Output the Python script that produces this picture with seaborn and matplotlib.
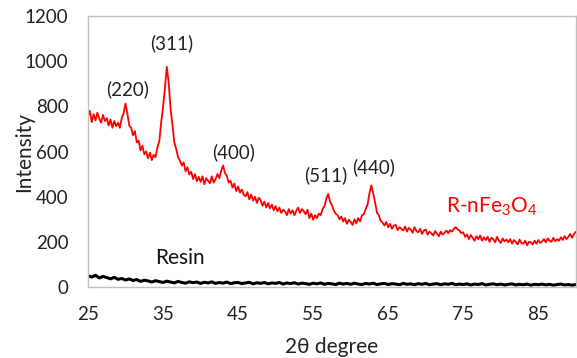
import numpy as np
import pandas as pd
import matplotlib
matplotlib.use("Agg")
import matplotlib.pyplot as plt
import seaborn as sns

# ---- data ----
# R-nFe3O4 pattern, sampled every 0.25 degree from 25 to 90
red_start, red_step = 25.0, 0.25
red_intensity = [
    755, 780, 730, 765,   # 25
    738, 772, 745, 728,   # 26
    762, 735, 748, 715,   # 27
    742, 705, 735, 712,   # 28
    728, 705, 748, 770,   # 29
    812, 768, 715, 705,   # 30
    672, 690, 640, 648,   # 31
    605, 625, 588, 600,   # 32
    570, 595, 562, 585,   # 33
    575, 618, 645, 730,   # 34
    795, 880, 975, 905,   # 35
    790, 720, 640, 612,   # 36
    575, 560, 538, 552,   # 37
    512, 530, 498, 510,   # 38
    478, 500, 468, 488,   # 39
    465, 490, 455, 482,   # 40
    470, 460, 490, 462,   # 41
    478, 500, 482, 515,   # 42
    538, 505, 492, 462,   # 43
    470, 440, 458, 425,   # 44
    445, 418, 432, 408,   # 45
    402, 420, 388, 410,   # 46
    382, 400, 372, 395,   # 47
    385, 360, 378, 352,   # 48
    372, 348, 365, 340,   # 49
    358, 335, 352, 328,   # 50
    342, 335, 318, 345,   # 51
    325, 340, 318, 338,   # 52
    352, 328, 345, 335,   # 53
    322, 342, 305, 325,   # 54
    298, 318, 305, 325,   # 55
    318, 345, 358, 390,   # 56
    412, 378, 362, 338,   # 57
    325, 318, 300, 312,   # 58
    290, 305, 280, 298,   # 59
    288, 275, 300, 282,   # 60
    305, 290, 318, 322,   # 61
    345, 365, 415, 450,   # 62
    415, 375, 330, 318,   # 63
    292, 285, 272, 288,   # 64
    265, 280, 258, 272,   # 65
    275, 252, 265, 258,   # 66
    250, 268, 245, 262,   # 67
    255, 240, 265, 248,   # 68
    242, 258, 235, 250,   # 69
    255, 232, 245, 238,   # 70
    228, 248, 235, 225,   # 71
    245, 232, 240, 250,   # 72
    238, 252, 245, 258,   # 73
    265, 255, 250, 238,   # 74
    242, 222, 232, 212,   # 75
    230, 218, 205, 225,   # 76
    212, 228, 205, 220,   # 77
    208, 222, 200, 218,   # 78
    212, 198, 222, 205,   # 79
    195, 215, 202, 210,   # 80
    198, 212, 192, 208,   # 81
    200, 188, 210, 195,   # 82
    192, 205, 185, 200,   # 83
    198, 188, 205, 192,   # 84
    208, 195, 202, 212,   # 85
    198, 215, 205, 200,   # 86
    218, 202, 212, 205,   # 87
    220, 208, 225, 212,   # 88
    222, 235, 218, 235,   # 89
    245,                  # 90
]

# Resin pattern, sampled every 0.5 degree from 25 to 90
resin_start, resin_step = 25.0, 0.5
resin_intensity = [
    50, 44, 52, 40, 47, 42, 36, 43, 34, 38,   # 25-29.5
    31, 36, 29, 33, 25, 30, 27, 22, 28, 24,   # 30-34.5
    20, 26, 22, 18, 25, 20, 17, 23, 19, 22,   # 35-39.5
    16, 21, 18, 23, 16, 20, 17, 22, 15, 19,   # 40-44.5
    20, 15, 18, 21, 14, 19, 16, 20, 14, 18,   # 45-49.5
    16, 20, 13, 18, 15, 19, 13, 17, 15, 12,   # 50-54.5
    17, 14, 18, 12, 16, 14, 11, 17, 13, 16,   # 55-59.5
    12, 17, 13, 11, 16, 13, 17, 11, 14, 16,   # 60-64.5
    11, 15, 13, 10, 16, 12, 14, 10, 15, 12,   # 65-69.5
    16, 10, 13, 15, 10, 14, 12, 16, 10, 13,   # 70-74.5
    11, 14, 9, 13, 11, 15, 9, 12, 14, 10,     # 75-79.5
    13, 9, 12, 14, 9, 12, 10, 13, 8, 12,      # 80-84.5
    10, 13, 9, 12, 8, 11, 13, 9, 11, 8,       # 85-89.5
    11,                                        # 90
]

peak_labels = ["(220)", "(311)", "(400)", "(511)", "(440)"]
peak_label_x = [30.3, 36.2, 44.4, 56.7, 63.0]
peak_label_y = [875, 1080, 595, 493, 529]

x_ticks = [25, 35, 45, 55, 65, 75, 85]
y_ticks = [0, 200, 400, 600, 800, 1000, 1200]

# ---- build frames ----
red_theta = red_start + red_step * np.arange(len(red_intensity))
resin_theta = resin_start + resin_step * np.arange(len(resin_intensity))
df_red = pd.DataFrame({"theta": red_theta, "intensity": red_intensity})
df_resin = pd.DataFrame({"theta": resin_theta, "intensity": resin_intensity})

sns.set_style("white")
plt.rcParams["font.family"] = ["Lato", "DejaVu Sans"]
plt.rcParams["mathtext.fontset"] = "custom"
plt.rcParams["mathtext.rm"] = "Lato"
plt.rcParams["mathtext.it"] = "Lato:italic"

fig = plt.figure(figsize=(5.77, 3.58), dpi=100)
ax = fig.add_axes([0.1525, 0.1983, 0.8455, 0.757])

sns.lineplot(data=df_red, x="theta", y="intensity", ax=ax, color="#ff0000",
             linewidth=1.3, estimator=None, sort=False)
sns.lineplot(data=df_resin, x="theta", y="intensity", ax=ax, color="#000000",
             linewidth=2.2, estimator=None, sort=False)

ax.set_xlim(25, 90)
ax.set_ylim(0, 1200)
ax.set_xticks(x_ticks)
ax.set_yticks(y_ticks)
ax.tick_params(axis="both", length=0, labelsize=13.5, colors="#222222")
ax.tick_params(axis="y", pad=14)
ax.tick_params(axis="x", pad=14)
for s in ax.spines.values():
    s.set_color("#bfbfbf")
    s.set_linewidth(1.0)

ax.set_xlabel("2θ degree", fontsize=15, color="#222222", labelpad=10)
ax.set_ylabel("Intensity", fontsize=15, color="#222222")
ax.yaxis.set_label_coords(-0.111, 0.5)

for lab, lx, ly in zip(peak_labels, peak_label_x, peak_label_y):
    ax.text(lx, ly, lab, ha="center", va="center", fontsize=13.5, color="#222222")

ax.text(72.7, 355, "R-nFe$_3$O$_4$", ha="left", va="center", fontsize=15, color="#ff0000")
ax.text(37.2, 129, "Resin", ha="center", va="center", fontsize=15, color="#111111")

fig.savefig("out.png", dpi=100)
